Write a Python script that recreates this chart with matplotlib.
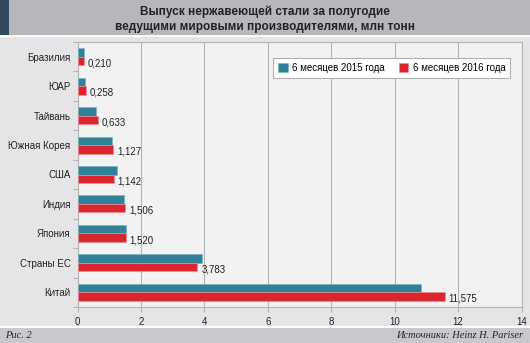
import matplotlib
matplotlib.use('Agg')
import matplotlib.pyplot as plt
import numpy as np
from matplotlib.patches import Rectangle

# Data
countries = ['Бразилия', 'ЮАР', 'Тайвань', 'Южная Корея', 'США',
             'Индия', 'Япония', 'Страны ЕС', 'Китай']
values_2015 = [0.19, 0.25, 0.58, 1.10, 1.23, 1.48, 1.52, 3.91, 10.83]
values_2016 = [0.210, 0.258, 0.633, 1.127, 1.142, 1.506, 1.520, 3.783, 11.575]
labels_2016 = ['0,210', '0,258', '0,633', '1,127', '1,142',
               '1,506', '1,520', '3,783', '11,575']
series_names = ['6 месяцев 2015 года', '6 месяцев 2016 года']
x_ticks = [0, 2, 4, 6, 8, 10, 12, 14]

colors = {
    'teal': '#2e8196',
    'red': '#d9272f',
    'header': '#b7b6bb',
    'strip': '#33495f',
    'bg': '#e5e4e7',
    'plot': '#f2f2f2',
    'footer': '#c9c8cc',
    'grid': '#b4b4b4',
}

plt.rcParams['font.family'] = ['Liberation Sans', 'DejaVu Sans']

W, H = 530, 343
fig = plt.figure(figsize=(W / 100, H / 100), dpi=100)
fig.patch.set_facecolor(colors['bg'])


def px_rect(x0, y0, x1, y1, color):
    """Rectangle in pixel coords (top-left origin)"""
    fig.patches.append(Rectangle((x0 / W, 1 - y1 / H), (x1 - x0) / W, (y1 - y0) / H,
                                 transform=fig.transFigure, facecolor=color,
                                 edgecolor='none', zorder=0))


# Header and footer bands
px_rect(0, 0, W, 35, colors['header'])
px_rect(0, 0, 9, 35, colors['strip'])
px_rect(0, 35, W, 37, 'white')
px_rect(0, 326, W, 328, 'white')
px_rect(0, 328, W, H, colors['footer'])

fig.text(0.5, 1 - 12 / H, 'Выпуск нержавеющей стали за полугодие',
         ha='center', va='center', fontsize=8.5, fontweight='bold', color='#222222')
fig.text(0.5, 1 - 27 / H, 'ведущими мировыми производителями, млн тонн',
         ha='center', va='center', fontsize=8.5, fontweight='bold', color='#222222')

fig.text(5 / W, 1 - 335 / H, 'Рис. 2', ha='left', va='center', fontsize=7.5,
         style='italic', family=['Liberation Serif', 'DejaVu Serif'], color='#222222')
fig.text(523 / W, 1 - 335 / H, 'Источники: Heinz H. Pariser', ha='right', va='center',
         fontsize=7.5, style='italic', family=['Liberation Serif', 'DejaVu Serif'],
         color='#222222')

# Plot area
left, right, top, bottom = 77.5, 521.5, 42, 307
ax = fig.add_axes([left / W, 1 - bottom / H, (right - left) / W, (bottom - top) / H])
ax.set_facecolor(colors['plot'])

pos = np.arange(len(countries))
h = 0.29
ax.barh(pos - h / 2, values_2015, height=h, color=colors['teal'],
        edgecolor='#7fb3c2', linewidth=0.5, label=series_names[0], zorder=3)
ax.barh(pos + h / 2, values_2016, height=h, color=colors['red'],
        edgecolor='#ee8a8e', linewidth=0.5, label=series_names[1], zorder=3)

for p, v, lab in zip(pos, values_2016, labels_2016):
    ax.text(v + 0.12, p + h / 2 + 0.08, lab, ha='left', va='center',
            fontsize=7, color='#222222', zorder=4)

ax.set_xlim(0, 14)
ax.set_ylim(len(countries) - 0.5, -0.5)
ax.set_xticks(x_ticks)
ax.set_xticklabels([str(t) for t in x_ticks], fontsize=7, color='#222222')
ax.set_yticks(pos)
ax.set_yticklabels(countries, fontsize=7, color='#222222')
ax.set_yticks(np.arange(len(countries) + 1) - 0.5, minor=True)
ax.tick_params(axis='y', which='major', length=0, pad=5)
ax.tick_params(axis='y', which='minor', length=3.5, color=colors['grid'], width=0.8)
ax.tick_params(axis='x', which='major', length=3.5, color=colors['grid'], width=0.8, pad=4)
ax.grid(axis='x', color=colors['grid'], linewidth=0.8, zorder=0)
ax.set_axisbelow(True)
for s in ax.spines.values():
    s.set_color(colors['grid'])
    s.set_linewidth(0.8)

leg = ax.legend(loc='upper right', bbox_to_anchor=(0.975, 0.94), ncol=2,
                fontsize=7, frameon=True, fancybox=False, handlelength=0.95,
                handleheight=0.95, handletextpad=0.5, columnspacing=1.4,
                borderpad=0.5, borderaxespad=0)
leg.get_frame().set_edgecolor('#b0b0b0')
leg.get_frame().set_linewidth(0.8)
leg.get_frame().set_facecolor('white')
leg.get_frame().set_alpha(1)

plt.savefig('out.png', dpi=100, facecolor=fig.get_facecolor())
plt.close()
